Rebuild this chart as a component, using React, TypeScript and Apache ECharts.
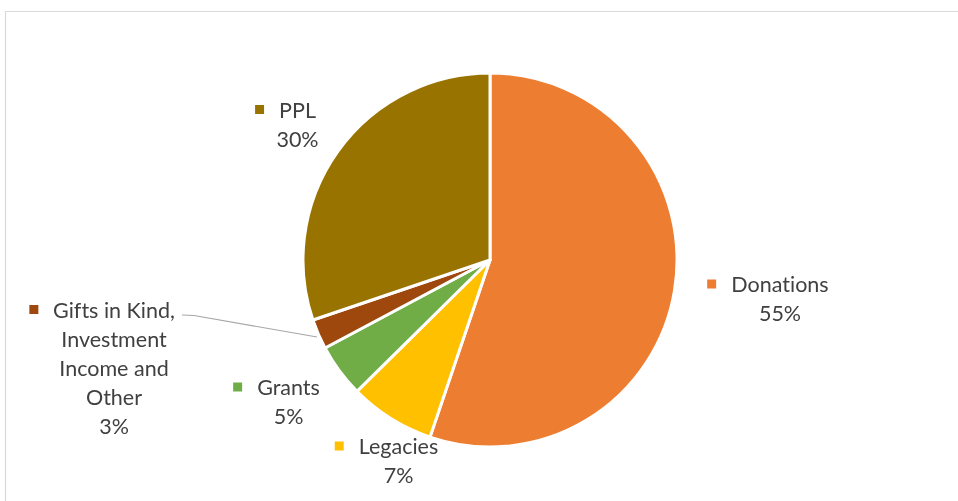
import React, { useEffect, useRef } from "react";
import * as echarts from "echarts";

const categories = [
  "Donations",
  "Legacies",
  "Grants",
  "Gifts in Kind,\nInvestment\nIncome and\nOther",
  "PPL",
];
const values = [55.2, 7.4, 4.6, 2.6, 30.2];
const colors = ["#ED7D31", "#FFC000", "#70AD47", "#9E480E", "#997300"];

// label block centres (style)
const labelPos: [number, number][] = [
  [780, 298.5],
  [398.5, 460.5],
  [288.5, 401.5],
  [114, 367.5],
  [297.5, 124],
];

const TEXT = "#404040";
const FONT = "Lato, 'Noto Sans', sans-serif";

export default function App() {
  const ref = useRef<HTMLDivElement>(null);
  useEffect(() => {
    if (!ref.current) return;
    const chart = echarts.init(ref.current, undefined, { renderer: "svg" });
    const rich: any = {
      g: { width: 15, height: 8 },
      s: { width: 24, height: 8 },
      n: { fontSize: 21.5, lineHeight: 29, color: TEXT, fontFamily: FONT },
      p: { fontSize: 21.5, lineHeight: 29, color: TEXT, fontFamily: FONT },
    };
    colors.forEach((c, i) => {
      rich["m" + i] = { width: 9, height: 9, backgroundColor: c };
    });
    chart.setOption({
      animation: false,
      graphic: [
        {
          type: "rect",
          shape: { x: 5.5, y: 11.5, width: 1000, height: 600 },
          style: { fill: "none", stroke: "#D9D9D9", lineWidth: 1.2 },
        },
      ],
      series: [
        {
          type: "pie",
          center: [490, 260],
          radius: 187,
          startAngle: 90,
          clockwise: true,
          avoidLabelOverlap: false,
          itemStyle: { borderColor: "#ffffff", borderWidth: 3 },
          emphasis: { disabled: true },
          data: categories.map((name, i) => ({
            name,
            value: values[i],
            itemStyle: { color: colors[i] },
            labelLine: {
              show: i === 3,
              lineStyle: { color: "#A6A6A6", width: 1.2 },
            },
          })),
          label: {
            show: true,
            position: "outside",
            align: "center",
            fontFamily: FONT,
            formatter: (p: any) => {
              const lines = String(p.name).split("\n");
              const first = `{m${p.dataIndex}| }{g| }{n|${lines[0]}}{s| }`;
              const rest = lines.slice(1).map((l) => `{n|${l}}`);
              return [first, ...rest, `{p|${Math.round(p.percent)}%}`].join("\n");
            },
            rich,
          },
          labelLayout: (params: any) => {
            const [x, y] = labelPos[params.dataIndex];
            const out: any = { x, y, align: "center", verticalAlign: "middle" };
            if (params.dataIndex === 3) {
              out.labelLinePoints = [
                [182, 315],
                [194, 315.5],
                [317, 337],
              ];
            }
            return out;
          },
        },
      ],
    });
    return () => chart.dispose();
  }, []);
  return (
    <>
      <style>{"svg text, svg tspan { font-variant-ligatures: none !important; font-feature-settings: 'liga' 0, 'clig' 0 !important; }"}</style>
      <div
        ref={ref}
        style={{ position: "fixed", left: 0, top: 0, width: 958, height: 501 }}
      />
    </>
  );
}
